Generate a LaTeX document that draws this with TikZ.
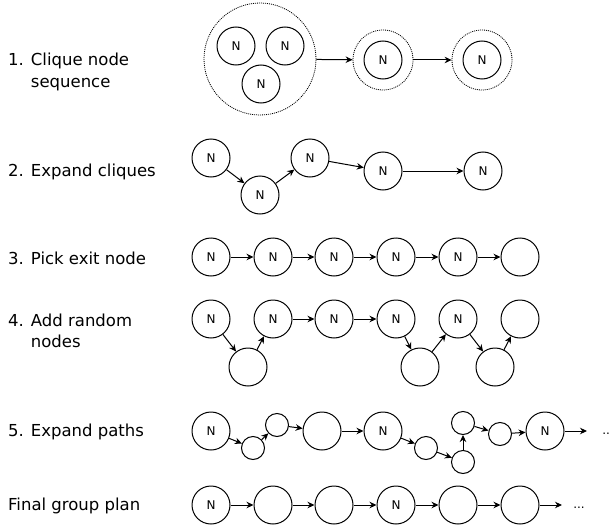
\documentclass[tikz,border=0pt]{standalone}
\usepackage{fontspec}
\setmainfont{DejaVu Sans}
\usetikzlibrary{arrows.meta}
\begin{document}
\begin{tikzpicture}[x=1pt,y=-1pt,
  every node/.style={inner sep=0pt},
  lbl/.style={anchor=west,align=left,font=\fontsize{16.5}{21.5}\selectfont},
  nd/.style={draw,circle,line width=1pt,minimum size=38pt,font=\fontsize{12}{14}\selectfont},
  sm/.style={draw,circle,line width=1pt,minimum size=23pt},
  clq/.style={draw,circle,line width=0.8pt,dash pattern=on 1pt off 1pt},
  arr/.style={line width=1pt,-{Stealth[length=7pt,width=6.5pt]}},
  dots/.style={font=\fontsize{12}{14}\selectfont}]
\useasboundingbox (0,0) rectangle (610,527);

% step labels
\node[lbl] (l1) at (8,72) {1. Clique node\\\hphantom{1. }sequence};
\node[lbl] (l2) at (8,172) {2. Expand cliques};
\node[lbl] (l3) at (8,258) {3. Pick exit node};
\node[lbl] (l4) at (8,331) {4. Add random\\\hphantom{4. }nodes};
\node[lbl] (l5) at (8,432) {5. Expand paths};
\node[lbl] (l6) at (8,506) {Final group plan};

% 1. clique sequence
\node[clq,minimum size=112pt] (c1) at (260,59) {};
\node[nd] (c1a) at (236,46) {N};
\node[nd] (c1b) at (285,46) {N};
\node[nd] (c1c) at (261,84) {N};
\node[clq,minimum size=60pt] (c2) at (383,60) {};
\node[nd] (c2a) at (383,60) {N};
\node[clq,minimum size=60pt] (c3) at (482,60) {};
\node[nd] (c3a) at (482,60) {N};
\draw[arr] (c1) -- (c2);
\draw[arr] (c2) -- (c3);

% 2. expanded cliques
\node[nd] (e1) at (211,158) {N};
\node[nd] (e2) at (260,195) {N};
\node[nd] (e3) at (310,158) {N};
\node[nd] (e4) at (383,171) {N};
\node[nd] (e5) at (483,171) {N};
\draw[arr] (e1) -- (e2);
\draw[arr] (e2) -- (e3);
\draw[arr] (e3) -- (e4);
\draw[arr] (e4) -- (e5);

% 3. exit node
\node[nd] (p1) at (211,257) {N};
\node[nd] (p2) at (273,257) {N};
\node[nd] (p3) at (334,257) {N};
\node[nd] (p4) at (396,257) {N};
\node[nd] (p5) at (458,257) {N};
\node[nd] (p6) at (520,257) {};
\draw[arr] (p1) -- (p2);
\draw[arr] (p2) -- (p3);
\draw[arr] (p3) -- (p4);
\draw[arr] (p4) -- (p5);
\draw[arr] (p5) -- (p6);

% 4. random nodes
\node[nd] (r1) at (211,319) {N};
\node[nd] (r2) at (248,367) {};
\node[nd] (r3) at (273,319) {N};
\node[nd] (r4) at (334,319) {N};
\node[nd] (r5) at (396,319) {N};
\node[nd] (r6) at (420,367) {};
\node[nd] (r7) at (458,319) {N};
\node[nd] (r8) at (495,367) {};
\node[nd] (r9) at (520,319) {};
\draw[arr] (r1) -- (r2);
\draw[arr] (r2) -- (r3);
\draw[arr] (r3) -- (r4);
\draw[arr] (r4) -- (r5);
\draw[arr] (r5) -- (r6);
\draw[arr] (r6) -- (r7);
\draw[arr] (r7) -- (r8);
\draw[arr] (r8) -- (r9);

% 5. expanded paths
\node[nd] (x1) at (211,431) {N};
\node[sm] (x2) at (253,448) {};
\node[sm] (x3) at (277,425) {};
\node[nd] (x4) at (322,431) {};
\node[nd] (x5) at (383,431) {N};
\node[sm] (x6) at (426,448) {};
\node[sm] (x7) at (463,462) {};
\node[sm] (x8) at (463,423) {};
\node[sm] (x9) at (500,434) {};
\node[nd] (x10) at (545,431) {N};
\coordinate (x11) at (587,431);
\node[dots] (x12) at (608,434) {...};
\draw[arr] (x1) -- (x2);
\draw[arr] (x2) -- (x3);
\draw[arr] (x3) -- (x4);
\draw[arr] (x4) -- (x5);
\draw[arr] (x5) -- (x6);
\draw[arr] (x6) -- (x7);
\draw[arr] (x7) -- (x8);
\draw[arr] (x8) -- (x9);
\draw[arr] (x9) -- (x10);
\draw[arr] (x10) -- (x11);

% final plan
\node[nd] (f1) at (211,505) {N};
\node[nd] (f2) at (273,505) {};
\node[nd] (f3) at (334,505) {};
\node[nd] (f4) at (396,505) {N};
\node[nd] (f5) at (458,505) {};
\node[nd] (f6) at (520,505) {};
\coordinate (f7) at (562,505);
\node[dots] (f8) at (579,508) {...};
\draw[arr] (f1) -- (f2);
\draw[arr] (f2) -- (f3);
\draw[arr] (f3) -- (f4);
\draw[arr] (f4) -- (f5);
\draw[arr] (f5) -- (f6);
\draw[arr] (f6) -- (f7);
\end{tikzpicture}
\end{document}
